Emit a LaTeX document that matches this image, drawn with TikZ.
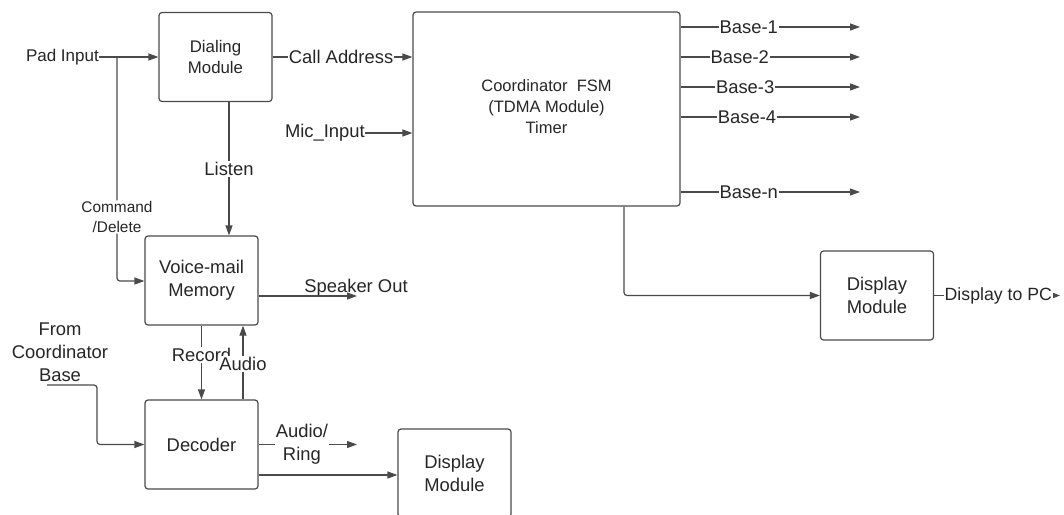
\documentclass[tikz,border=0pt]{standalone}
\usepackage{fontspec}
\setmainfont{Liberation Sans}
\usetikzlibrary{arrows.meta,calc}
\definecolor{ink}{HTML}{262626}
\definecolor{wire}{HTML}{4A4A4A}

\begin{document}
\begin{tikzpicture}[x=1pt,y=-1pt,
  wirestyle/.style={draw=wire, line width=1.2pt},
  arr/.style={wirestyle, -{Triangle[length=10pt,width=7pt]}},
  smallarr/.style={wirestyle, -{Triangle[length=8pt,width=6pt]}},
  block/.style={draw=wire, line width=1.2pt, rounded corners=3pt, text=ink,
    align=center, inner sep=0pt, minimum width=113pt, minimum height=89pt},
  big/.style={font=\fontsize{18.4}{23}\selectfont},
  mid/.style={font=\fontsize{16.8}{21}\selectfont},
  small/.style={font=\fontsize{15.4}{20}\selectfont},
  txt/.style={text=ink, align=center, inner sep=0pt},
  lbl/.style={txt, fill=white, inner sep=1pt},
]
\clip (0,0) rectangle (1064,514);
\fill[white] (0,0) rectangle (1064,514);

% blocks
\node[block, mid] (dial) at (215.5,57) {Dialing\\Module};
\node[block, minimum width=267pt, minimum height=194pt] (coord) at (546.5,109) {};
\node[txt, font=\fontsize{16.5}{21}\selectfont] (coordtxt) at (546.5,107)
  {Coordinator~~FSM\\(TDMA Module)\\Timer};
\node[block, big] (vm) at (201.5,280.5) {Voice-mail\\Memory};
\node[block, big] (dec) at (201.5,444.5) {Decoder};
\node[block, big] (dispA) at (877,295.5) {Display\\Module};
\node[block, big, minimum height=88pt] (dispB) at (454.5,473) {Display\\Module};

% free-standing texts
\node[txt, font=\fontsize{17}{21}\selectfont, anchor=east] (pad) at (99,57) {Pad Input};
\node[txt, big, anchor=east] (mic) at (365,133) {Mic\_Input};
\node[txt, big] (from) at (60,352) {From\\Coordinator\\Base};
\node[txt, big, anchor=base] (spklbl) at (356,292) {Speaker Out};

% helper points for open wire ends
\coordinate (padsplit) at (117,57);
\coordinate (spk) at (357,296);
\coordinate (fromend) at (47,385);
\coordinate (ar) at (357,444.5);
\coordinate (pc) at (1060,295.5);

% dialing path
\draw[arr] (pad.east) -- (dial.west |- pad.east);
\draw[arr, rounded corners=3pt] (padsplit)
  -- node[lbl, small, pos=0.714] {Command\\/Delete} (117,281) -- (vm.west |- 0,281);
\draw[arr] (dial.east) -- node[lbl, big, pos=0.49] {Call Address} (coord.west |- dial.east);
\draw[arr] (mic.east) -- (coord.west |- mic.east);
\draw[arr] ([xshift=13.5pt]dial.south) -- node[lbl, big] {Listen} ([xshift=27.5pt]vm.north);

% voice-mail / decoder
\draw[arr] (vm.east |- spk) -- (spk);
\draw[arr] (vm.south) -- node[lbl, big, pos=0.4] {Record} (dec.north);
\draw[arr] ([xshift=41.5pt]dec.north) -- node[lbl, big, pos=0.48] {Audio} ([xshift=41.5pt]vm.south);
\draw[arr, rounded corners=3pt] (fromend) -- ++(50,0) |- (dec.west);
\draw[arr] (dec.east) -- node[lbl, big, pos=0.44] {Audio/\\Ring} (ar);
\draw[arr] (dec.east |- 0,475) -- (dispB.west |- 0,475);

% coordinator outputs
\foreach \y/\t/\p [count=\i] in {27/Base-1/0.38, 57/Base-2/0.33, 87/Base-3/0.36, 117/Base-4/0.37, 192/Base-n/0.38}{
  \coordinate (b\i) at (860,\y);
  \draw[arr] (coord.east |- b\i) -- node[lbl, big, pos=\p] {\t} (b\i);
}
\draw[arr, rounded corners=3pt] (coord.south -| 624,0) |- (dispA.west);
\draw[smallarr] (dispA.east) -- node[lbl, font=\fontsize{17.7}{22}\selectfont, pos=0.51] {Display to PC} (pc);
\end{tikzpicture}
\end{document}
